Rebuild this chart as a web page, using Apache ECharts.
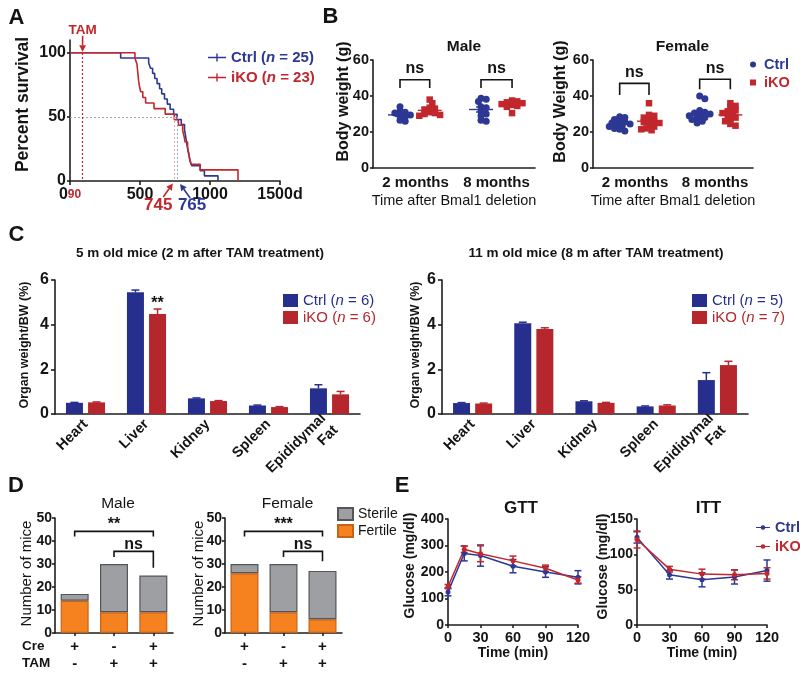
<!DOCTYPE html>
<html>
<head>
<meta charset="utf-8">
<title>Bmal1 iKO phenotypes</title>
<script src="https://cdn.jsdelivr.net/npm/echarts@6.0.0/dist/echarts.min.js"></script>
<style>
html,body{margin:0;padding:0;background:#fff;}
#chart{width:800px;height:679px;}
</style>
</head>
<body>
<div id="chart"></div>
<script>
// ======================= DATA =======================
// A - Kaplan-Meier survival: day of each drop and % surviving after it
const survCtrlDays = [0, 362, 562, 575, 590, 605, 622, 640, 655, 675, 695, 715, 740, 765, 795, 818, 824, 830, 836, 842, 850, 856, 870, 930, 960, 1057];
const survCtrlPct  = [100, 96, 92, 88, 84, 80, 76, 72, 68, 64, 60, 56, 52, 48, 44, 40, 36, 32, 28, 24, 20, 16, 12, 8, 4, 0];
const survKODays   = [0, 464, 478, 482, 486, 490, 496, 505, 520, 540, 600, 680, 745, 775, 805, 815, 822, 840, 848, 855, 865, 930, 1200];
const survKOPct    = [100, 95.7, 91.3, 87.0, 82.6, 78.3, 73.9, 69.6, 65.2, 60.9, 56.5, 52.2, 47.8, 43.5, 39.1, 34.8, 30.4, 26.1, 21.7, 17.4, 13.0, 8.7, 0];
const medianCtrl = 765;
const medianKO = 745;
const tamDay = 90;
const survTicksX = [0, 500, 1000, 1500];

// B - body weight (g), individual mice
const timepoints = ['2 months', '8 months'];
const bwMaleCtrl2m = [34, 31.5, 31, 30.5, 29.5, 29, 28.5, 26.5, 26];
const bwMaleKO2m   = [38, 36, 33.5, 33, 32.5, 31, 30.5, 30, 29.5, 29];
const bwMaleCtrl8m = [38.7, 38.2, 37, 34, 33.5, 31.5, 30, 29, 26.5, 26];
const bwMaleKO8m   = [37.5, 37, 36.5, 36, 35.5, 35, 34.5, 34, 30.5];
const bwMaleMean   = [29.5, 32, 32.5, 35.3];
const bwMaleSem    = [0.8, 0.9, 1.4, 0.7];
const bwFemCtrl2m  = [28.5, 28, 27, 26, 25.5, 25, 24.5, 24, 23.5, 23, 22, 21.5, 20.5];
const bwFemKO2m    = [36, 29.5, 29, 28, 27, 26, 25.5, 25, 24, 23, 22, 21.5, 21];
const bwFemCtrl8m  = [40, 38.5, 32, 31, 30.5, 30, 29.5, 29, 28, 27.5, 27, 26, 25];
const bwFemKO8m    = [36, 34.5, 33.5, 32, 31.5, 30.5, 30, 29, 28, 27, 26, 24.5, 23.5];
const bwFemMean    = [24.5, 26, 29.8, 29.5];
const bwFemSem     = [0.7, 1.1, 1.3, 1.0];

// C - organ weight / body weight (%)
const organs = ['Heart', 'Liver', 'Kidney', 'Spleen', 'Epididymal Fat'];
const orgYoungCtrl    = [0.50, 5.45, 0.70, 0.38, 1.15];
const orgYoungCtrlErr = [0.02, 0.10, 0.02, 0.02, 0.16];
const orgYoungKO      = [0.52, 4.48, 0.58, 0.31, 0.88];
const orgYoungKOErr   = [0.02, 0.22, 0.02, 0.02, 0.13];
const orgYoungSig     = ['', '**', '', '', ''];
const orgOldCtrl      = [0.49, 4.06, 0.57, 0.34, 1.52];
const orgOldCtrlErr   = [0.02, 0.05, 0.02, 0.02, 0.33];
const orgOldKO        = [0.47, 3.81, 0.50, 0.38, 2.19];
const orgOldKOErr     = [0.02, 0.05, 0.02, 0.03, 0.17];

// D - fertility (number of mice)
const creRow = ['+', '-', '+'];
const tamRow = ['-', '+', '+'];
const maleFertile   = [14, 9, 9];
const maleSterile   = [3, 21, 16];
const femaleFertile = [26, 9, 6];
const femaleSterile = [4, 21, 21];

// E - glucose / insulin tolerance (mg/dl)
const gttTime    = [0, 15, 30, 60, 90, 120];
const gttCtrl    = [125, 270, 262, 222, 200, 180];
const gttCtrlErr = [15, 28, 40, 25, 20, 25];
const gttKO      = [145, 286, 269, 242, 214, 170];
const gttKOErr   = [8, 12, 30, 18, 12, 12];
const ittTime    = [0, 30, 60, 90, 120];
const ittCtrl    = [124, 71, 64, 68, 77];
const ittCtrlErr = [8, 6, 10, 10, 15];
const ittKO      = [121, 79, 72, 71, 73];
const ittKOErr   = [12, 4, 7, 7, 8];

// ======================= STYLE / LAYOUT =======================
const FONT = '"Liberation Sans", Arial, Helvetica, sans-serif';
const TXT = '#141414';
const AX = '#1e1e1e';
const BLUE = '#2d3894';
const RED = '#c1272d';
const BAR_BLUE = '#262f8e';
const BAR_RED = '#b5272d';
const ORANGE = '#f5821f';
const GRAY = '#9d9fa2';

const grids = [
  {left: 70,  top: 40,  width: 210, height: 141},   // 0 A
  {left: 373, top: 60,  width: 162, height: 108},   // 1 B male
  {left: 593, top: 60,  width: 160, height: 108},   // 2 B female
  {left: 55,  top: 280, width: 305, height: 134},   // 3 C young
  {left: 442, top: 280, width: 306, height: 134},   // 4 C old
  {left: 55,  top: 518, width: 118, height: 115},   // 5 D male
  {left: 225, top: 518, width: 117, height: 115},   // 6 D female
  {left: 448, top: 519, width: 130, height: 106},   // 7 E GTT
  {left: 637, top: 519, width: 130, height: 106}    // 8 E ITT
].map(g => Object.assign({outerBoundsMode: 'none', containLabel: false}, g));

function merge(a, b) {
  const o = Object.assign({}, a);
  for (const k in b) {
    const v = b[k];
    if (v && typeof v === 'object' && !Array.isArray(v) && a[k] && typeof a[k] === 'object' && !Array.isArray(a[k])) o[k] = merge(a[k], v);
    else o[k] = v;
  }
  return o;
}
const baseAxis = {
  axisLine: {show: true, onZero: false, lineStyle: {color: AX, width: 1.6}},
  axisTick: {show: true, inside: false, length: 4, lineStyle: {color: AX, width: 1.6}},
  splitLine: {show: false},
  axisLabel: {color: TXT, fontFamily: FONT, fontWeight: 'bold', fontSize: 15, margin: 5},
  nameTextStyle: {color: TXT, fontFamily: FONT, fontWeight: 'bold', fontSize: 15},
  nameMoveOverlap: false
};
const ax = o => merge(baseAxis, o);

// beeswarm offsets (pixel-based collision avoidance)
function swarm(values, center, xs, ys, diam) {
  const placed = [];
  values.slice().sort((a, b) => b - a).forEach(v => {
    const py = v * ys;
    for (let k = 0; k < 60; k++) {
      const off = (k % 2 ? 1 : -1) * Math.ceil(k / 2) * diam * 0.4;
      const px = center * xs + off;
      if (placed.every(p => Math.hypot(p[0] - px, p[1] - py) >= diam * 0.6)) { placed.push([px, py]); break; }
    }
  });
  return placed.map(p => [p[0] / xs, p[1] / ys]);
}
const groupPos = [1.0, 2.1, 4.0, 5.15];
const bScaleM = [grids[1].width / 6, grids[1].height / 60];
const bScaleF = [grids[2].width / 6, grids[2].height / 60];

function errBarSeries(xi, yi, xs, vals, errs, color, opts) {
  const o = Object.assign({offset: 0, cap: 4, upOnly: false, width: 1.5}, opts);
  return {
    type: 'custom', xAxisIndex: xi, yAxisIndex: yi, silent: true, z: 4, clip: false,
    encode: {x: 0, y: 1},
    data: vals.map((v, i) => [xs[i], v, errs[i]]),
    renderItem: (params, api) => {
      const x = api.value(0), y = api.value(1), e = api.value(2);
      const p = api.coord([x, y]), t = api.coord([x, y + e]), b = api.coord([x, y - e]);
      const cx = p[0] + o.offset, st = {stroke: color, lineWidth: o.width};
      const ch = [
        {type: 'line', shape: {x1: cx, y1: t[1], x2: cx, y2: o.upOnly ? p[1] : b[1]}, style: st},
        {type: 'line', shape: {x1: cx - o.cap, y1: t[1], x2: cx + o.cap, y2: t[1]}, style: st}
      ];
      if (!o.upOnly) ch.push({type: 'line', shape: {x1: cx - o.cap, y1: b[1], x2: cx + o.cap, y2: b[1]}, style: st});
      return {type: 'group', children: ch};
    }
  };
}
function meanSeries(xi, yi, pos, means, sems, colors) {
  return {
    type: 'custom', xAxisIndex: xi, yAxisIndex: yi, silent: true, z: 6, clip: false,
    encode: {x: 0, y: 1},
    data: pos.map((x, i) => [x, means[i], sems[i]]),
    renderItem: (params, api) => {
      const x = api.value(0), m = api.value(1), s = api.value(2), c = colors[params.dataIndex];
      const p = api.coord([x, m]), t = api.coord([x, m + s]), b = api.coord([x, m - s]);
      const st = {stroke: c, lineWidth: 1.4};
      return {type: 'group', children: [
        {type: 'line', shape: {x1: p[0] - 12, y1: p[1], x2: p[0] + 12, y2: p[1]}, style: st},
        {type: 'line', shape: {x1: p[0], y1: t[1], x2: p[0], y2: b[1]}, style: st},
        {type: 'line', shape: {x1: p[0] - 5, y1: t[1], x2: p[0] + 5, y2: t[1]}, style: st},
        {type: 'line', shape: {x1: p[0] - 5, y1: b[1], x2: p[0] + 5, y2: b[1]}, style: st}
      ]};
    }
  };
}
function bracketSeries(xi, yi, defs, fontSize) {
  return {
    type: 'custom', xAxisIndex: xi, yAxisIndex: yi, silent: true, z: 8, clip: false,
    encode: {x: 0, y: 2},
    data: defs.map(b => [b.x1, b.x2, b.top, b.l1, b.l2, b.ty]),
    renderItem: (params, api) => {
      const d = defs[params.dataIndex];
      const x1 = api.value(0), x2 = api.value(1), top = api.value(2), l1 = api.value(3), l2 = api.value(4), ty = api.value(5);
      const a = api.coord([x1, l1]), b = api.coord([x1, top]), c = api.coord([x2, top]), e = api.coord([x2, l2]);
      const tyPx = api.coord([x1, ty])[1];
      return {type: 'group', children: [
        {type: 'polyline', shape: {points: [a, b, c, e]}, style: {stroke: TXT, lineWidth: 1.6, fill: null}},
        {type: 'text', x: (b[0] + c[0]) / 2, y: tyPx, style: {text: d.text, align: 'center', verticalAlign: 'middle', fill: TXT, fontFamily: FONT, fontWeight: 'bold', fontSize: fontSize}}
      ]};
    }
  };
}

// legend rich text with italic "n"
function richN(name) {
  const c = name.indexOf('Ctrl') === 0 ? 'b' : 'r';
  const i = name.indexOf('(n');
  if (i < 0) return '{' + c + '|' + name + '}';
  return '{' + c + '|' + name.slice(0, i + 1) + '}{' + c + 'i|n}{' + c + '|' + name.slice(i + 2) + '}';
}
function richStyles(size, weight, blue, red) {
  const s = (color, it) => ({color, fontSize: size, fontWeight: weight, fontFamily: FONT, fontStyle: it ? 'italic' : 'normal'});
  return {b: s(blue), bi: s(blue, true), r: s(red), ri: s(red, true)};
}
const tickIcon = 'path://M0,4.3h18v1.4h-18z M8.3,1h1.4v8h-1.4z';
const lineDotIcon = 'path://M0,4.25h18v1.5h-18z M12,5a3,3 0 1,1 -6,0a3,3 0 1,1 6,0z';
const squareIcon = 'path://M0,0h10v10h-10z';

// ======================= AXES =======================
const xAxes = [
  ax({gridIndex: 0, type: 'value', min: survTicksX[0], max: survTicksX[3], interval: 500,
      axisLabel: {fontSize: 16, margin: 6,
        formatter: v => v === 0 ? '0{r|' + tamDay + '}' : (v === survTicksX[3] ? v + 'd' : String(v)),
        rich: {r: {color: RED, fontSize: 12, fontWeight: 'bold', fontFamily: FONT}}}}),
  ax({gridIndex: 1, type: 'value', min: 0, max: 6, axisTick: {show: false},
      axisLabel: {customValues: [1.575, 4.575], formatter: v => v < 3 ? timepoints[0] : timepoints[1], margin: 7},
      name: 'Time after Bmal1 deletion', nameLocation: 'middle', nameGap: 25, nameTextStyle: {fontWeight: 'normal', fontSize: 14.5}}),
  ax({gridIndex: 2, type: 'value', min: 0, max: 6, axisTick: {show: false},
      axisLabel: {customValues: [1.575, 4.575], formatter: v => v < 3 ? timepoints[0] : timepoints[1], margin: 7},
      name: 'Time after Bmal1 deletion', nameLocation: 'middle', nameGap: 25, nameTextStyle: {fontWeight: 'normal', fontSize: 14.5}}),
  ax({gridIndex: 3, type: 'category', data: organs, axisTick: {show: false},
      axisLabel: {interval: 0, rotate: 45, fontSize: 14.5, margin: 8, lineHeight: 17, formatter: s => s.replace(' ', '\n')}}),
  ax({gridIndex: 4, type: 'category', data: organs, axisTick: {show: false},
      axisLabel: {interval: 0, rotate: 45, fontSize: 14.5, margin: 8, lineHeight: 17, formatter: s => s.replace(' ', '\n')}}),
  ax({gridIndex: 5, type: 'category', data: creRow.map((c, i) => c + '\n' + tamRow[i]), axisTick: {show: true, alignWithLabel: true, length: 3},
      axisLabel: {fontSize: 15, lineHeight: 17, margin: 5}}),
  ax({gridIndex: 6, type: 'category', data: creRow.map((c, i) => c + '\n' + tamRow[i]), axisTick: {show: true, alignWithLabel: true, length: 3},
      axisLabel: {fontSize: 15, lineHeight: 17, margin: 5}}),
  ax({gridIndex: 7, type: 'value', min: 0, max: 120, interval: 30, axisTick: {length: 3}, axisLabel: {fontSize: 14.5},
      name: 'Time (min)', nameLocation: 'middle', nameGap: 21, nameTextStyle: {fontSize: 14}}),
  ax({gridIndex: 8, type: 'value', min: 0, max: 120, interval: 30, axisTick: {length: 3}, axisLabel: {fontSize: 14.5},
      name: 'Time (min)', nameLocation: 'middle', nameGap: 21, nameTextStyle: {fontSize: 14}})
];
const yAxes = [
  ax({gridIndex: 0, type: 'value', min: 0, max: 110, axisTick: {customValues: [0, 50, 100], length: 3},
      axisLabel: {customValues: [0, 50, 100], fontSize: 16, margin: 4},
      name: 'Percent survival', nameLocation: 'middle', nameGap: 38, nameTextStyle: {fontSize: 17.5, padding: [0, 0, 0, 12]}}),
  ax({gridIndex: 1, type: 'value', min: 0, max: 60, interval: 20, axisTick: {length: 3}, axisLabel: {margin: 4, fontSize: 14.5},
      name: 'Body weight (g)', nameLocation: 'middle', nameGap: 21, nameTextStyle: {fontSize: 16, padding: [0, 0, 0, 25]}}),
  ax({gridIndex: 2, type: 'value', min: 0, max: 60, interval: 20, axisTick: {length: 3}, axisLabel: {margin: 4, fontSize: 14.5},
      name: 'Body Weight (g)', nameLocation: 'middle', nameGap: 24, nameTextStyle: {fontSize: 16, padding: [0, 0, 0, 25]}}),
  ax({gridIndex: 3, type: 'value', min: 0, max: 6, interval: 2, axisLabel: {fontSize: 16, margin: 6},
      name: 'Organ weight/BW (%)', nameLocation: 'middle', nameGap: 24, nameTextStyle: {fontSize: 12.5, padding: [0, 0, 0, 4]}}),
  ax({gridIndex: 4, type: 'value', min: 0, max: 6, interval: 2, axisLabel: {fontSize: 16, margin: 6},
      name: 'Organ weight/BW (%)', nameLocation: 'middle', nameGap: 20, nameTextStyle: {fontSize: 12.5, padding: [0, 0, 0, 4]}}),
  ax({gridIndex: 5, type: 'value', min: 0, max: 50, interval: 10, axisTick: {length: 3}, axisLabel: {fontSize: 14, margin: 3},
      name: 'Number of mice', nameLocation: 'middle', nameGap: 21, nameTextStyle: {fontWeight: 'normal', fontSize: 15, padding: [0, 0, 0, 4]}}),
  ax({gridIndex: 6, type: 'value', min: 0, max: 50, interval: 10, axisTick: {length: 3}, axisLabel: {fontSize: 14, margin: 3},
      name: 'Number of mice', nameLocation: 'middle', nameGap: 19, nameTextStyle: {fontWeight: 'normal', fontSize: 15, padding: [0, 0, 0, 4]}}),
  ax({gridIndex: 7, type: 'value', min: 0, max: 400, interval: 100, axisTick: {length: 3}, axisLabel: {margin: 4, fontSize: 14},
      name: 'Glucose (mg/dl)', nameLocation: 'middle', nameGap: 31, nameTextStyle: {fontSize: 14, padding: [0, 0, 0, 13]}}),
  ax({gridIndex: 8, type: 'value', min: 0, max: 150, interval: 50, axisTick: {length: 3}, axisLabel: {margin: 4, fontSize: 14},
      name: 'Glucose (mg/dl)', nameLocation: 'middle', nameGap: 27, nameTextStyle: {fontSize: 14, padding: [0, 0, 0, 11]}})
];

// ======================= SERIES =======================
const series = [];
const noSym = ['none', 'none'];
// --- A
series.push({
  type: 'line', name: 'Ctrl (n = 25)', xAxisIndex: 0, yAxisIndex: 0, step: 'end', symbol: 'none', z: 3,
  data: survCtrlDays.map((d, i) => [d, survCtrlPct[i]]),
  lineStyle: {color: BLUE, width: 1.6}, itemStyle: {color: BLUE},
  markLine: {silent: true, symbol: noSym, label: {show: false}, data: [
    [{coord: [0, 50], lineStyle: {color: '#a6a6a6', type: [2, 2], width: 1}}, {coord: [medianCtrl, 50]}],
    [{coord: [medianCtrl, 50], lineStyle: {color: '#93a3d9', type: [2, 2], width: 1}}, {coord: [medianCtrl, 0]}],
    [{coord: [tamDay, 103], lineStyle: {color: RED, type: [2, 2], width: 1.2}}, {coord: [tamDay, 0]}]
  ]}
});
series.push({
  type: 'line', name: 'iKO (n = 23)', xAxisIndex: 0, yAxisIndex: 0, step: 'end', symbol: 'none', z: 3,
  data: survKODays.map((d, i) => [d, survKOPct[i]]),
  lineStyle: {color: RED, width: 1.6}, itemStyle: {color: RED},
  markLine: {silent: true, symbol: noSym, label: {show: false}, data: [
    [{coord: [medianKO, 50], lineStyle: {color: '#e3a3a3', type: [2, 2], width: 1}}, {coord: [medianKO, 0]}]
  ]}
});
// --- B
const scat = (name, xi, data, color, sym) => ({type: 'scatter', name, xAxisIndex: xi, yAxisIndex: xi, data,
  symbol: sym, symbolSize: sym === 'rect' ? 6.5 : 7, itemStyle: {color, opacity: 1}, z: 4});
const D_SW = 6.5;
series.push(scat('Ctrl', 1, swarm(bwMaleCtrl2m, groupPos[0], bScaleM[0], bScaleM[1], D_SW).concat(swarm(bwMaleCtrl8m, groupPos[2], bScaleM[0], bScaleM[1], D_SW)), BLUE, 'circle'));
series.push(scat('iKO', 1, swarm(bwMaleKO2m, groupPos[1], bScaleM[0], bScaleM[1], D_SW).concat(swarm(bwMaleKO8m, groupPos[3], bScaleM[0], bScaleM[1], D_SW)), RED, 'rect'));
series.push(scat('Ctrl', 2, swarm(bwFemCtrl2m, groupPos[0], bScaleF[0], bScaleF[1], D_SW).concat(swarm(bwFemCtrl8m, groupPos[2], bScaleF[0], bScaleF[1], D_SW)), BLUE, 'circle'));
series.push(scat('iKO', 2, swarm(bwFemKO2m, groupPos[1], bScaleF[0], bScaleF[1], D_SW).concat(swarm(bwFemKO8m, groupPos[3], bScaleF[0], bScaleF[1], D_SW)), RED, 'rect'));
const groupColors = [BLUE, RED, BLUE, RED];
series.push(meanSeries(1, 1, groupPos, bwMaleMean, bwMaleSem, groupColors));
series.push(meanSeries(2, 2, groupPos, bwFemMean, bwFemSem, groupColors));
series.push(bracketSeries(1, 1, [
  {x1: groupPos[0], x2: groupPos[1], top: 49, l1: 44.4, l2: 44.4, ty: 55, text: 'ns'},
  {x1: groupPos[2], x2: groupPos[3], top: 49, l1: 44.4, l2: 44.4, ty: 55, text: 'ns'}], 16));
series.push(bracketSeries(2, 2, [
  {x1: groupPos[0], x2: groupPos[1], top: 47, l1: 40.6, l2: 40.6, ty: 53.2, text: 'ns'},
  {x1: groupPos[2], x2: groupPos[3], top: 49.3, l1: 43.7, l2: 43.7, ty: 55.3, text: 'ns'}], 16));
// --- C
const barW = 17, barGapPct = 0.3, barOff = (barW + barW * barGapPct) / 2;
const sigLabel = (vals, sig) => vals.map((v, i) => sig[i] ? {value: v, label: {show: true, position: 'top', distance: 2,
  formatter: sig[i], color: TXT, fontFamily: FONT, fontWeight: 'bold', fontSize: 16}} : v);
const bar = (name, xi, data, color) => ({type: 'bar', name, xAxisIndex: xi, yAxisIndex: xi, data, barWidth: barW,
  barGap: (barGapPct * 100) + '%', itemStyle: {color}, z: 3});
series.push(bar('Ctrl (n = 6)', 3, orgYoungCtrl, BAR_BLUE));
series.push(bar('iKO (n = 6)', 3, sigLabel(orgYoungKO, orgYoungSig), BAR_RED));
series.push(bar('Ctrl (n = 5)', 4, orgOldCtrl, BAR_BLUE));
series.push(bar('iKO (n = 7)', 4, orgOldKO, BAR_RED));
const idx5 = organs.map((_, i) => i);
series.push(errBarSeries(3, 3, idx5, orgYoungCtrl, orgYoungCtrlErr, BAR_BLUE, {offset: -barOff, upOnly: true, cap: 4}));
series.push(errBarSeries(3, 3, idx5, orgYoungKO, orgYoungKOErr, BAR_RED, {offset: barOff, upOnly: true, cap: 4}));
series.push(errBarSeries(4, 4, idx5, orgOldCtrl, orgOldCtrlErr, BAR_BLUE, {offset: -barOff, upOnly: true, cap: 4}));
series.push(errBarSeries(4, 4, idx5, orgOldKO, orgOldKOErr, BAR_RED, {offset: barOff, upOnly: true, cap: 4}));
// --- D
const stackBar = (name, xi, data, color, border, stack) => ({type: 'bar', name, xAxisIndex: xi, yAxisIndex: xi, data, stack,
  barWidth: 28, itemStyle: {color, borderColor: border, borderWidth: 1.2}, z: 3});
series.push(stackBar('Fertile', 5, maleFertile, ORANGE, '#c8621a', 'm'));
series.push(stackBar('Sterile', 5, maleSterile, GRAY, '#555658', 'm'));
series.push(stackBar('Fertile', 6, femaleFertile, ORANGE, '#c8621a', 'f'));
series.push(stackBar('Sterile', 6, femaleSterile, GRAY, '#555658', 'f'));
series.push(bracketSeries(5, 5, [
  {x1: 0, x2: 2, top: 44.2, l1: 42, l2: 42, ty: 47, text: '**'},
  {x1: 1, x2: 2, top: 35.5, l1: 33, l2: 28.4, ty: 38.5, text: 'ns'}], 16));
series.push(bracketSeries(6, 6, [
  {x1: 0, x2: 2, top: 44.2, l1: 42, l2: 42, ty: 47, text: '***'},
  {x1: 1, x2: 2, top: 35.5, l1: 33, l2: 31.2, ty: 38.5, text: 'ns'}], 16));
// --- E
const gline = (name, xi, xs, ys, color) => ({type: 'line', name, xAxisIndex: xi, yAxisIndex: xi,
  data: xs.map((t, i) => [t, ys[i]]), symbol: 'circle', symbolSize: 5, showAllSymbol: true,
  lineStyle: {color, width: 1.5}, itemStyle: {color}, z: 5});
series.push(gline('Ctrl', 7, gttTime, gttCtrl, BLUE));
series.push(gline('iKO', 7, gttTime, gttKO, RED));
series.push(gline('Ctrl', 8, ittTime, ittCtrl, BLUE));
series.push(gline('iKO', 8, ittTime, ittKO, RED));
series.push(errBarSeries(7, 7, gttTime, gttCtrl, gttCtrlErr, BLUE, {cap: 3.5}));
series.push(errBarSeries(7, 7, gttTime, gttKO, gttKOErr, RED, {cap: 3.5}));
series.push(errBarSeries(8, 8, ittTime, ittCtrl, ittCtrlErr, BLUE, {cap: 3.5}));
series.push(errBarSeries(8, 8, ittTime, ittKO, ittKOErr, RED, {cap: 3.5}));

// ======================= LEGENDS =======================
const legends = [
  {left: 203, top: 45, orient: 'vertical', itemWidth: 18, itemHeight: 9, itemGap: 5, selectedMode: false,
   data: [{name: 'Ctrl (n = 25)', icon: tickIcon}, {name: 'iKO (n = 23)', icon: tickIcon}],
   formatter: richN, textStyle: {fontFamily: FONT, fontSize: 15, fontWeight: 'bold', rich: richStyles(15, 'bold', BLUE, RED)}},
  {left: 745, top: 52, orient: 'vertical', itemWidth: 12, itemHeight: 6, itemGap: 3, selectedMode: false,
   data: [{name: 'Ctrl', icon: 'circle', textStyle: {color: BLUE}}, {name: 'iKO', icon: squareIcon, textStyle: {color: RED}}],
   textStyle: {fontFamily: FONT, fontSize: 14.5, fontWeight: 'bold'}},
  {left: 278, top: 288, orient: 'vertical', itemWidth: 15, itemHeight: 13, itemGap: 2, selectedMode: false,
   data: [{name: 'Ctrl (n = 6)', icon: 'rect'}, {name: 'iKO (n = 6)', icon: 'rect'}],
   formatter: richN, textStyle: {fontFamily: FONT, fontSize: 15, rich: richStyles(15, 'normal', BAR_BLUE, BAR_RED)}},
  {left: 687, top: 288, orient: 'vertical', itemWidth: 15, itemHeight: 13, itemGap: 2, selectedMode: false,
   data: [{name: 'Ctrl (n = 5)', icon: 'rect'}, {name: 'iKO (n = 7)', icon: 'rect'}],
   formatter: richN, textStyle: {fontFamily: FONT, fontSize: 15, rich: richStyles(15, 'normal', BAR_BLUE, BAR_RED)}},
  {left: 332, top: 502, orient: 'vertical', itemWidth: 15, itemHeight: 12, itemGap: 3, selectedMode: false,
   data: [{name: 'Sterile', icon: 'rect'}, {name: 'Fertile', icon: 'rect'}],
   textStyle: {fontFamily: FONT, fontSize: 14, color: TXT}},
  {left: 751, top: 515, orient: 'vertical', itemWidth: 14, itemHeight: 8, itemGap: 4, selectedMode: false,
   data: [{name: 'Ctrl', icon: lineDotIcon, textStyle: {color: BLUE}}, {name: 'iKO', icon: lineDotIcon, textStyle: {color: RED}}],
   textStyle: {fontFamily: FONT, fontSize: 14.5, fontWeight: 'bold'}}
];

const chart = echarts.init(document.getElementById('chart'), null, {renderer: 'canvas'});
chart.setOption({
  animation: false,
  backgroundColor: '#ffffff',
  textStyle: {fontFamily: FONT},
  grid: grids, xAxis: xAxes, yAxis: yAxes, series: series, legend: legends
});

// ======================= ANNOTATIONS =======================
function txt(text, x, y, o) {
  return {type: 'text', silent: true, x, y, z: 100,
    style: Object.assign({text, fill: TXT, fontFamily: FONT, fontWeight: 'bold', fontSize: 15, align: 'center', verticalAlign: 'middle'}, o || {})};
}
function arrow(x1, y1, x2, y2, color) {
  const a = Math.atan2(y2 - y1, x2 - x1), L = 6.5, W = 3.4;
  const bx = x2 - L * Math.cos(a), by = y2 - L * Math.sin(a);
  const px = -Math.sin(a) * W, py = Math.cos(a) * W;
  return {type: 'group', silent: true, z: 100, children: [
    {type: 'line', shape: {x1, y1, x2: bx, y2: by}, style: {stroke: color, lineWidth: 1.6}},
    {type: 'polygon', shape: {points: [[x2, y2], [bx + px, by + py], [bx - px, by - py]]}, style: {fill: color}}
  ]};
}
const P = (g, pt) => chart.convertToPixel({gridIndex: g}, pt);
const pTam = P(0, [tamDay, 100]);
const pKO = P(0, [medianKO, 0]);
const pCtrl = P(0, [medianCtrl, 0]);
const pD = P(5, [0, 0]);
chart.setOption({graphic: [
  txt('A', 16.5, 17.5, {fontSize: 22}), txt('B', 330.5, 17, {fontSize: 22}), txt('C', 16.5, 235, {fontSize: 22}),
  txt('D', 16, 486, {fontSize: 22}), txt('E', 402, 486, {fontSize: 22}),
  txt('TAM', pTam[0], pTam[1] - 23, {fill: RED, fontSize: 13.5}),
  arrow(pTam[0], pTam[1] - 17, pTam[0], pTam[1] - 1, RED),
  txt(String(medianKO), pKO[0] - 16, pKO[1] + 24, {fill: RED, fontSize: 17}),
  txt(String(medianCtrl), pCtrl[0] + 15, pCtrl[1] + 24, {fill: BLUE, fontSize: 17}),
  arrow(pKO[0] - 11, pKO[1] + 16, pKO[0] - 1.5, pKO[1] + 2.5, RED),
  arrow(pCtrl[0] + 13, pCtrl[1] + 17, pCtrl[0] + 3, pCtrl[1] + 3, BLUE),
  txt('Male', 464, 47, {fontSize: 15.5}), txt('Female', 682.5, 47, {fontSize: 15.5}),
  txt('5 m old mice (2 m after TAM treatment)', 200, 253, {fontSize: 13.5}),
  txt('11 m old mice (8 m after TAM treatment)', 596, 253, {fontSize: 13.5}),
  txt('Male', 118, 504, {fontWeight: 'normal', fontSize: 15.5}), txt('Female', 287.5, 504, {fontWeight: 'normal', fontSize: 15.5}),
  txt('GTT', 521, 508, {fontSize: 17}), txt('ITT', 708.5, 508, {fontSize: 17}),
  txt('Cre', 22, pD[1] + 13, {align: 'left', fontSize: 13.5}),
  txt('TAM', 22, pD[1] + 30, {align: 'left', fontSize: 13.5})
]});
</script>
</body>
</html>
